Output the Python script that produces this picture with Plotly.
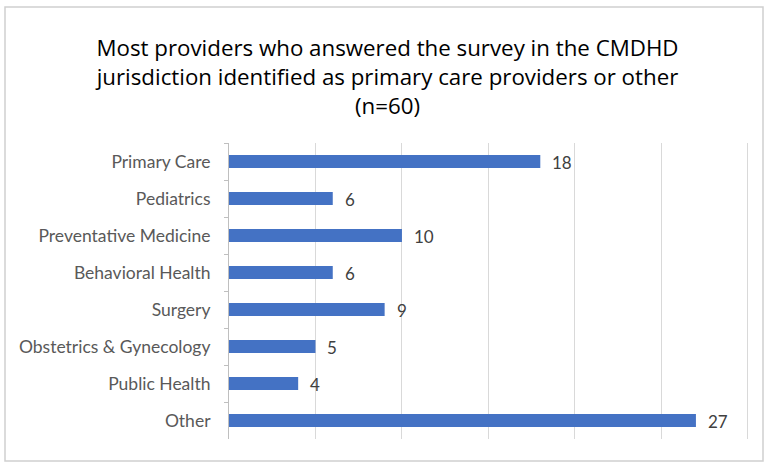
import plotly.graph_objects as go

categories = ["Primary Care", "Pediatrics", "Preventative Medicine", "Behavioral Health",
              "Surgery", "Obstetrics & Gynecology", "Public Health", "Other"]
values = [18, 6, 10, 6, 9, 5, 4, 27]
title_lines = ["Most providers who answered the survey in the CMDHD",
               "jurisdiction identified as primary care providers or other",
               "(n=60)"]

W, H = 775, 465
L, R, T, B = 229, 22, 143, 26
pw, ph = W - L - R, H - T - B

fig = go.Figure()
fig.add_trace(go.Bar(
    y=categories, x=values, orientation="h",
    marker=dict(color="#4472C4", line=dict(width=0)),
    hoverinfo="x+y",
))

for c, v in zip(categories, values):
    fig.add_annotation(x=v, y=c, text=str(v), showarrow=False,
                       xanchor="left", xshift=10, yshift=-1,
                       font=dict(family="Lato, sans-serif", size=17, color="#404040"))

# outer border in paper coords
bx0, by0, bx1, by1 = 5, 7, 763, 461
fig.add_shape(type="rect", xref="paper", yref="paper",
              x0=(bx0 - L) / pw, x1=(bx1 - L) / pw,
              y0=(H - B - by1) / ph, y1=(H - B - by0) / ph,
              line=dict(color="#d0d0d0", width=1.5), fillcolor="rgba(0,0,0,0)", layer="below")

fig.update_layout(
    width=W, height=H,
    margin=dict(l=L, r=R, t=T, b=B, pad=0),
    paper_bgcolor="white", plot_bgcolor="white",
    showlegend=False,
    bargap=0.65,
    title=dict(text="<br>".join(title_lines), x=0.5, xref="container", xanchor="center",
               y=1 - 56 / H, yref="container", yanchor="top",
               font=dict(family="Open Sans, sans-serif", size=22.3, color="#000000")),
    xaxis=dict(range=[0, 30.3], tick0=0, dtick=5, showgrid=True, gridcolor="#d9d9d9", gridwidth=1,
               showticklabels=False, zeroline=False, showline=False, ticks="",
               fixedrange=True),
    yaxis=dict(autorange="reversed", showline=True, linecolor="#bfbfbf", linewidth=1,
               ticks="outside", tickson="boundaries", ticklen=4, tickcolor="#bfbfbf",
               ticklabelstandoff=14,
               tickfont=dict(family="Lato, sans-serif", size=17.5, color="#595959"),
               showgrid=False, fixedrange=True),
)

fig.write_html("out.html", config={"displayModeBar": False},
               post_script="document.body.style.margin='0px';document.body.style.overflow='hidden';")
